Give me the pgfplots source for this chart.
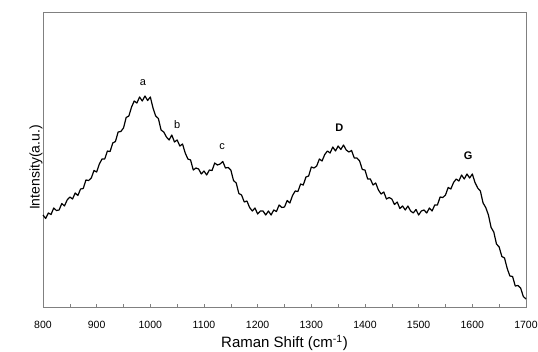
\documentclass[border=0pt]{standalone}
\usepackage{fontspec}
\setmainfont{Liberation Sans}
\usepackage{pgfplots}
\pgfplotsset{compat=1.18}
\definecolor{axgray}{RGB}{128,128,128}
\begin{document}
\begin{tikzpicture}
\begin{axis}[
  scale only axis, width=483pt, height=295pt,
  xmin=800, xmax=1700, ymin=0, ymax=295,
  axis line style={axgray, line width=0.8pt},
  xtick={800,900,...,1700}, minor xtick={850,950,...,1650},
  ytick=\empty,
  tick align=inside, xtick pos=bottom,
  major tick length=3pt, minor tick length=3pt,
  tick style={axgray, line width=0.6pt},
  /pgf/number format/assume math mode=true,
  /pgf/number format/1000 sep={},
  xticklabel style={font=\fontsize{10.5}{12}\selectfont, yshift=-11pt},
  xlabel={Raman Shift (cm\textsuperscript{-1})},
  ylabel={Intensity(a.u.)},
  xlabel style={font=\fontsize{15}{17}\selectfont, yshift=1pt},
  ylabel style={font=\fontsize{14}{16}\selectfont, yshift=-3pt, xshift=-8pt},
  clip=false,
]
\addplot[black, line width=1.2pt, line join=round] table {
800 92
805 88.5
810 94
815 92.5
820 99
825 96.5
830 97
835 103.5
840 101
845 107
850 110
855 108
860 114
865 111.5
870 118
875 118.5
880 127
885 126.5
890 129
895 136.5
900 135
905 143
910 148
915 148
920 156
925 155.5
930 164
935 165.5
940 175
945 175.5
950 179
955 189.5
960 191
965 200
970 206
975 204
980 210
985 206
990 211
995 206.5
1000 210
1005 199
1010 191
1015 188.5
1020 177
1025 175
1030 170
1035 167
1040 172
1045 165
1050 167
1055 161
1060 163
1065 154
1070 148
1075 147
1080 137
1085 139
1090 138
1095 133
1100 136
1105 132
1110 137
1115 136.5
1120 144
1125 142
1130 143
1135 145.5
1140 139
1145 139.5
1150 137
1155 126.5
1160 124
1165 113.5
1170 112
1175 105
1180 106
1185 99.5
1190 96
1195 99
1200 93
1205 96
1210 96
1215 92
1220 96
1225 92
1230 97
1235 95.5
1240 102
1245 99.5
1250 100
1255 106.5
1260 104
1265 111.5
1270 116
1275 115.5
1280 123
1285 122
1290 130
1295 131
1300 140
1305 139
1310 141
1315 148
1320 146
1325 152.5
1330 156
1335 154
1340 160
1345 156
1350 161
1355 157.5
1360 162
1365 157
1370 155
1375 156.5
1380 149
1385 149
1390 146
1395 137.5
1400 137
1405 128
1410 128
1415 122
1420 124
1425 117
1430 113
1435 115
1440 108
1445 109.5
1450 108
1455 102.5
1460 105
1465 98.5
1470 101
1475 97
1480 101
1485 96
1490 94
1495 97.5
1500 92
1505 96
1510 97
1515 94
1520 99
1525 96
1530 102
1535 102
1540 110
1545 109.5
1550 112
1555 119.5
1560 118
1565 124.5
1570 128
1575 126
1580 132
1585 128
1590 133
1595 129
1600 133
1605 124.5
1610 119
1615 116
1620 104
1625 99.5
1630 92
1635 79.5
1640 75
1645 63
1650 60
1655 50.5
1660 49
1665 38.5
1670 31
1675 30.5
1680 21
1685 21.5
1690 19
1695 10.5
1700 8
};
\node[font=\fontsize{11}{12}\selectfont] at (axis cs:986,224) {a};
\node[font=\fontsize{11}{12}\selectfont] at (axis cs:1050,182) {b};
\node[font=\fontsize{11}{12}\selectfont] at (axis cs:1134,160) {c};
\node[font=\fontsize{11}{12}\selectfont\bfseries] at (axis cs:1352,179) {D};
\node[font=\fontsize{11}{12}\selectfont\bfseries] at (axis cs:1592,151) {G};
\end{axis}
\pgfresetboundingbox
\useasboundingbox (-43pt,-44pt) rectangle (495pt,307pt);
\end{tikzpicture}
\end{document}
